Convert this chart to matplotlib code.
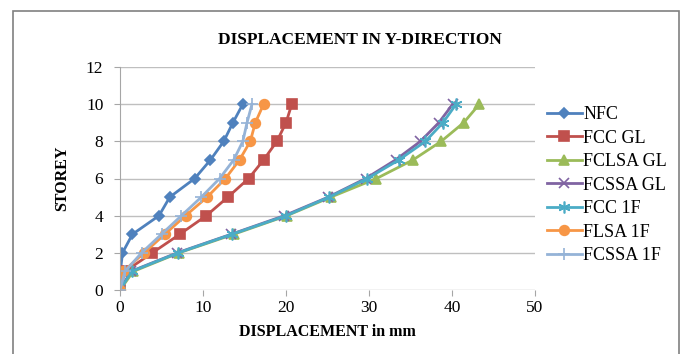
import numpy as np
import matplotlib
matplotlib.use('Agg')
import matplotlib.pyplot as plt
from matplotlib.patches import Rectangle

plt.rcParams['font.family'] = ['Liberation Serif', 'DejaVu Serif']

storey = [0, 1, 2, 3, 4, 5, 6, 7, 8, 9, 10]

nfc      = [0, 0.05, 0.3, 1.5, 4.7, 6.0, 9.0, 10.9, 12.5, 13.6, 14.8]
fcc_gl   = [0, 0.6, 3.9, 7.2, 10.4, 13.0, 15.5, 17.3, 18.9, 20.0, 20.7]
fclsa_gl = [0, 1.6, 7.1, 13.7, 20.1, 25.4, 30.9, 35.3, 38.7, 41.4, 43.3]
fcssa_gl = [0, 1.3, 6.9, 13.4, 19.8, 25.1, 29.6, 33.2, 36.2, 38.4, 40.1]
fcc_1f   = [0, 1.4, 7.0, 13.5, 20.0, 25.2, 29.8, 33.6, 36.8, 38.9, 40.5]
flsa_1f  = [0, 0.4, 2.9, 5.4, 7.9, 10.5, 12.7, 14.4, 15.7, 16.3, 17.3]
fcssa_1f = [0, 0.6, 2.6, 5.0, 7.4, 9.8, 12.0, 13.7, 14.8, 15.3, 15.9]

fig = plt.figure(figsize=(6.81, 3.54), dpi=100)
ax = fig.add_axes([120/681, 1-290/354, 415/681, 223/354])

# chart border (bottom edge is cut off in the original)
fig.patches.append(Rectangle((13/681, -0.05), 666/681, 1.05 - 11/354, transform=fig.transFigure,
                             fill=False, edgecolor='#808080', linewidth=1.2))

series = [
    (nfc, 'NFC', '#4F81BD', 'D', 5.5),
    (fcc_gl, 'FCC GL', '#C0504D', 's', 6.5),
    (fclsa_gl, 'FCLSA GL', '#9BBB59', '^', 7.5),
    (fcssa_gl, 'FCSSA GL', '#8064A2', 'x', 6.5),
    (fcc_1f, 'FCC 1F', '#4BACC6', (6, 2, 0), 8.5),
    (flsa_1f, 'FLSA 1F', '#F79646', 'o', 7),
    (fcssa_1f, 'FCSSA 1F', '#95B3D7', '+', 8.5),
]
for vals, lab, col, mk, ms in series:
    ax.plot(vals, storey, color=col, linewidth=2, marker=mk, markersize=ms,
            markeredgecolor=col, markerfacecolor=col, markeredgewidth=1.2, label=lab)

ax.set_xlim(0, 50)
ax.set_ylim(0, 12)
ax.set_xticks(np.arange(0, 51, 10))
ax.set_yticks(np.arange(0, 13, 2))
ax.grid(axis='y', color='#BFBFBF', linewidth=1)
ax.set_axisbelow(True)
for s in ['top', 'right', 'bottom']:
    ax.spines[s].set_visible(False)
ax.spines['left'].set_color('#A6A6A6')
ax.tick_params(axis='both', colors='#A6A6A6', labelcolor='black', labelsize=12.5, length=4)
ax.tick_params(axis='y', pad=8)
ax.tick_params(axis='x', pad=3)

ax.set_xlabel('DISPLACEMENT in mm', fontweight='bold', fontsize=11.5, labelpad=6)
ax.set_ylabel('STOREY', fontweight='bold', fontsize=11.5, labelpad=11)
fig.text(360/681, 1-40/354, 'DISPLACEMENT IN Y-DIRECTION', ha='center', va='center',
         fontweight='bold', fontsize=12.5)

leg = ax.legend(loc='upper left', bbox_to_anchor=(540/681, 1-99/354), bbox_transform=fig.transFigure,
                frameon=False, fontsize=13, handlelength=1.9, handletextpad=0.1,
                labelspacing=0.36, borderaxespad=0)

fig.savefig('out.png', dpi=100)
